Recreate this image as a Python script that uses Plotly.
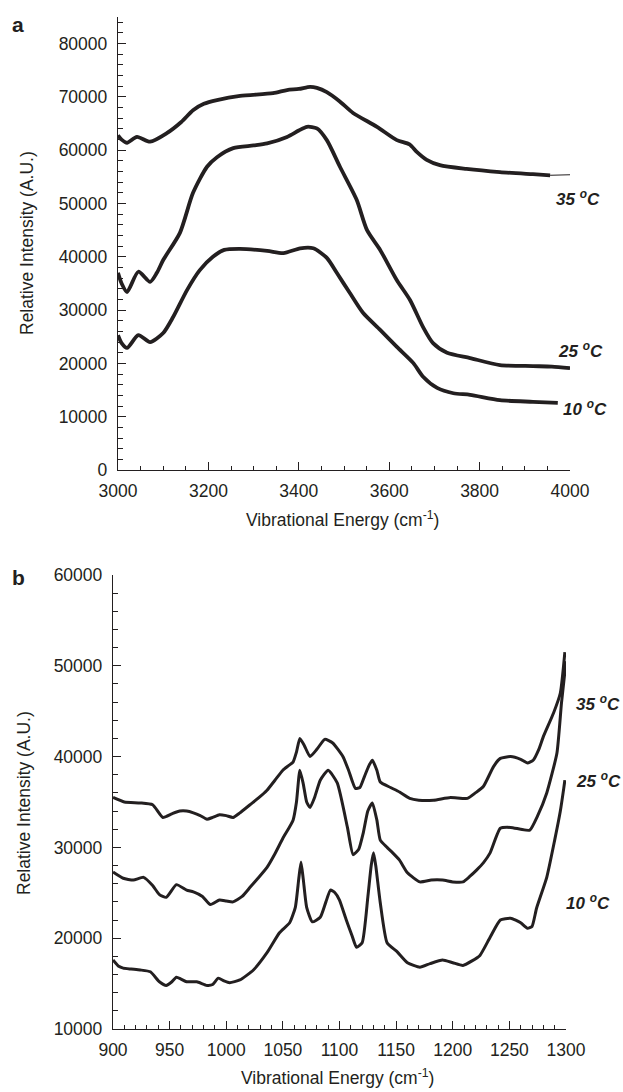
import plotly.graph_objects as go

W, H = 623, 1092

# ---------------- Panel a data (3000-4000 cm-1) ----------------
a35_x = [3000, 3008, 3020, 3042, 3071, 3108, 3140, 3166, 3190, 3219, 3270, 3343, 3374, 3400, 3425,
         3440, 3462, 3490, 3520, 3573, 3617, 3645, 3661, 3683, 3712, 3771, 3845, 3918, 3956]
a35_y = [62800, 62000, 61400, 62500, 61600, 63200, 65300, 67500, 68700, 69400, 70200, 70700, 71300, 71500, 71900,
         71700, 70900, 69200, 67000, 64400, 61900, 61100, 59700, 58200, 57200, 56500, 55900, 55500, 55300]
a35_tail_x = [3956, 4000]
a35_tail_y = [55300, 55400]

a25_x = [3000, 3008, 3020, 3045, 3071, 3086, 3100, 3137, 3166, 3197, 3219, 3255, 3300, 3330, 3374, 3400,
         3418, 3440, 3462, 3491, 3528, 3551, 3580, 3617, 3646, 3675, 3697, 3728, 3779, 3845, 3918, 3960, 4000]
a25_y = [37000, 35000, 33400, 37200, 35300, 37000, 39400, 44500, 52000, 56900, 58700, 60400, 60900, 61300, 62500, 63700,
         64400, 64100, 61900, 56900, 50700, 45000, 41300, 35600, 31900, 26800, 23800, 22000, 21000, 19700, 19500, 19400, 19100]

a10_x = [3000, 3008, 3020, 3045, 3071, 3100, 3122, 3153, 3181, 3210, 3235, 3270, 3330, 3366, 3403, 3432,
         3462, 3484, 3513, 3542, 3580, 3617, 3653, 3675, 3706, 3742, 3779, 3845, 3918, 3973]
a10_y = [25300, 23800, 22900, 25300, 24000, 25700, 28700, 33800, 37500, 40000, 41300, 41500, 41100, 40700, 41600, 41600,
         39800, 37000, 33200, 29500, 26300, 23100, 20100, 17500, 15400, 14400, 14100, 13100, 12800, 12600]

# ---------------- Panel b data (900-1300 cm-1) ----------------
b35_x = [900, 910, 924, 935, 944, 952, 959, 965, 971, 977, 983, 988, 994, 1000, 1006, 1012, 1021, 1028, 1036,
         1043, 1050, 1055, 1059, 1062, 1065, 1069, 1074, 1080, 1087, 1094, 1103, 1108, 1114, 1118, 1122, 1126,
         1129, 1133, 1136, 1145, 1153, 1162, 1170, 1183, 1198, 1213, 1220, 1227, 1236, 1242, 1251, 1260, 1266,
         1271, 1276, 1280, 1289, 1295, 1299]
b35_y = [35500, 35000, 34900, 34700, 33300, 33700, 34000, 34000, 33800, 33500, 33100, 33300, 33600, 33500, 33300,
         33800, 34700, 35400, 36300, 37400, 38500, 39000, 39400, 40500, 42000, 41200, 40000, 40800, 41900, 41500,
         40000, 38500, 36500, 36600, 37800, 39000, 39600, 38500, 37200, 36600, 36100, 35400, 35200, 35200, 35500,
         35400, 36000, 36700, 38900, 39800, 40000, 39700, 39300, 39600, 40800, 42200, 44800, 47000, 51500]

b25_x = [900, 909, 918, 927, 935, 941, 947, 956, 965, 971, 979, 986, 994, 1000, 1006, 1014, 1021, 1028, 1036,
         1043, 1050, 1059, 1062, 1065, 1068, 1071, 1074, 1078, 1083, 1090, 1098, 1107, 1112, 1117, 1121, 1125,
         1129, 1133, 1136, 1142, 1147, 1153, 1160, 1171, 1181, 1191, 1200, 1209, 1215, 1221, 1227, 1233, 1242,
         1251, 1260, 1268, 1275, 1283, 1292, 1296, 1300]
b25_y = [27300, 26600, 26400, 26700, 25800, 24800, 24500, 25900, 25300, 25100, 24600, 23700, 24200, 24100, 24000,
         24600, 25600, 26600, 27800, 29300, 31000, 33000, 35000, 38500, 37000, 35000, 34400, 35500, 37400, 38500,
         37100, 32200, 29200, 29800, 31600, 34000, 34900, 33000, 30800, 30000, 29400, 28600, 27200, 26200, 26400,
         26400, 26200, 26200, 26800, 27500, 28300, 29400, 32100, 32200, 32000, 31900, 33500, 36000, 40400, 45900, 50500]

b10_x = [900, 905, 909, 916, 924, 933, 941, 947, 952, 956, 960, 965, 974, 983, 988, 993, 998, 1003, 1012, 1024,
         1036, 1047, 1056, 1061, 1064, 1066, 1068, 1071, 1076, 1083, 1088, 1092, 1096, 1100, 1106, 1111, 1115,
         1120, 1125, 1128, 1130, 1132, 1136, 1142, 1151, 1160, 1171, 1180, 1191, 1200, 1209, 1217, 1224, 1233,
         1242, 1251, 1260, 1266, 1270, 1274, 1283, 1290, 1295, 1298, 1299]
b10_y = [17600, 16900, 16700, 16600, 16500, 16300, 15200, 14800, 15200, 15700, 15500, 15200, 15200, 14800, 14900,
         15600, 15300, 15100, 15400, 16500, 18400, 20600, 21700, 23400, 26500, 28400, 26500, 23400, 21800, 22300,
         24000, 25300, 25000, 24200, 22000, 20300, 19000, 19500, 24500, 28000, 29400, 28000, 23900, 19500, 18500,
         17300, 16800, 17200, 17600, 17300, 17000, 17500, 18100, 20100, 22000, 22200, 21700, 21100, 21300, 23300,
         26700, 30800, 34000, 36500, 37400]

temp_labels = ["35 <sup>o</sup>C", "25 <sup>o</sup>C", "10 <sup>o</sup>C"]
y_title = "Relative Intensity (A.U.)"
x_title = "Vibrational Energy (cm<sup>-1</sup>)"

INK = "#231f20"
FONT = "Liberation Sans, Arial, Helvetica, sans-serif"


def px_x(p):
    return p / W


def px_y(p):
    return 1 - p / H


fig = go.Figure()

line_a = dict(color=INK, width=3.8, shape="spline", smoothing=0.7)
line_b = dict(color=INK, width=3, shape="spline", smoothing=0.5)

for xs, ys in [(a35_x, a35_y), (a25_x, a25_y), (a10_x, a10_y)]:
    fig.add_trace(go.Scatter(x=xs, y=ys, mode="lines", line=line_a, xaxis="x", yaxis="y",
                             showlegend=False, hoverinfo="skip"))
fig.add_trace(go.Scatter(x=a35_tail_x, y=a35_tail_y, mode="lines", line=dict(color=INK, width=1),
                         xaxis="x", yaxis="y", showlegend=False, hoverinfo="skip"))
for xs, ys in [(b35_x, b35_y), (b25_x, b25_y), (b10_x, b10_y)]:
    fig.add_trace(go.Scatter(x=xs, y=ys, mode="lines", line=line_b, xaxis="x2", yaxis="y2",
                             showlegend=False, hoverinfo="skip"))

tickfont = dict(family=FONT, size=17.5, color=INK)
common = dict(showline=True, linecolor=INK, linewidth=1.4, showgrid=False, zeroline=False,
              ticks="inside", tickcolor=INK, tickwidth=1.2, ticklen=8, tickfont=tickfont,
              automargin=False, mirror=False, fixedrange=True)

fig.update_layout(
    width=W, height=H,
    margin=dict(l=0, r=0, t=0, b=0),
    paper_bgcolor="white", plot_bgcolor="white",
    xaxis=dict(domain=[px_x(118), px_x(570)], range=[3000, 4000], tick0=3000, dtick=200,
               anchor="y", ticklabelstandoff=5,
               minor=dict(ticks="inside", dtick=50, ticklen=4, tickcolor=INK, tickwidth=1.2), **common),
    yaxis=dict(domain=[px_y(470), px_y(17)], range=[0, 85000], tick0=0, dtick=10000, tickformat="d",
               anchor="x", ticklabelstandoff=6,
               minor=dict(ticks="inside", dtick=2000, ticklen=5, tickcolor=INK, tickwidth=1.2), **common),
    xaxis2=dict(domain=[px_x(113), px_x(566)], range=[900, 1300], tick0=900, dtick=50,
                anchor="y2", ticklabelstandoff=5,
                minor=dict(ticks="inside", dtick=10, ticklen=4, tickcolor=INK, tickwidth=1.2), **common),
    yaxis2=dict(domain=[px_y(1029), px_y(575)], range=[10000, 60000], tick0=10000, dtick=10000, tickformat="d",
                anchor="x2", ticklabelstandoff=6,
                minor=dict(ticks="inside", dtick=2000, ticklen=5, tickcolor=INK, tickwidth=1.2), **common),
)

ann = []


def add_text(text, x, y, size, angle=0, bold=False, italic=False):
    t = text
    if italic:
        t = "<i>" + t + "</i>"
    if bold:
        t = "<b>" + t + "</b>"
    ann.append(dict(text=t, x=px_x(x), y=px_y(y), xref="paper", yref="paper",
                    xanchor="center", yanchor="middle", showarrow=False, textangle=angle,
                    font=dict(family=FONT, size=size, color=INK)))


add_text("a", 18, 24, 21, bold=True)
add_text("b", 18, 577, 21, bold=True)
add_text(y_title, 27, 243, 17.5, angle=-90)
add_text(y_title, 24, 803, 17.5, angle=-90)
add_text(x_title, 342, 519, 17.5)
add_text(x_title, 337, 1077, 17.5)
add_text(temp_labels[0], 578, 198, 17, bold=True, italic=True)
add_text(temp_labels[1], 580, 350, 17, bold=True, italic=True)
add_text(temp_labels[2], 585, 408, 17, bold=True, italic=True)
add_text(temp_labels[0], 598, 703, 17, bold=True, italic=True)
add_text(temp_labels[1], 598, 780, 17, bold=True, italic=True)
add_text(temp_labels[2], 588, 902, 17, bold=True, italic=True)

fig.update_layout(annotations=ann)

fig.write_html("out.html")
